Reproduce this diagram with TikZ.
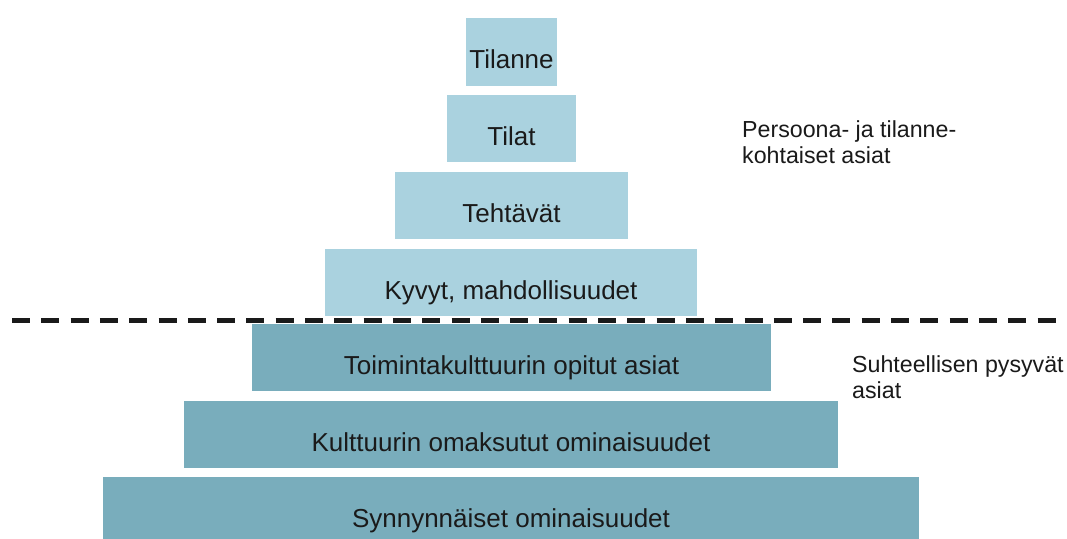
\documentclass[tikz,border=0pt]{standalone}
\usepackage{fontspec}
\setmainfont{Liberation Sans}
\definecolor{lightbox}{HTML}{AAD2DF}
\definecolor{darkbox}{HTML}{79ADBC}
\definecolor{txt}{HTML}{1A1A1A}
\begin{document}
\begin{tikzpicture}[x=1pt,y=-1pt,
  lvl/.style={inner sep=0pt,outer sep=0pt,text=txt,text height=33pt,text depth=0pt,
    font=\fontsize{26}{30}\selectfont},
  upper/.style={lvl,fill=lightbox},
  lower/.style={lvl,fill=darkbox},
  side/.style={anchor=base west,align=left,inner sep=0pt,text=txt,font=\fontsize{23.2}{26}\selectfont}]
\useasboundingbox (0,0) rectangle (1067,538);
\fill[white] (0,0) rectangle (1067,538);
\node[upper,minimum width=91pt,minimum height=68pt] (tilanne) at (511.5,52) {Tilanne};
\node[upper,minimum width=129pt,minimum height=67pt] (tilat) at (511.5,128.5) {Tilat};
\node[upper,minimum width=233pt,minimum height=67pt] (teht) at (511.5,205.5) {Tehtävät};
\node[upper,minimum width=372pt,minimum height=67pt] (kyvyt) at (511,282.5) {Kyvyt, mahdollisuudet};
\node[lower,minimum width=519pt,minimum height=67pt] (toim) at (511.5,357.5) {Toimintakulttuurin opitut asiat};
\node[lower,minimum width=654pt,minimum height=67pt] (kult) at (511,434.5) {Kulttuurin omaksutut ominaisuudet};
\node[lower,minimum width=816pt,minimum height=67pt] (synn) at (511,510.5) {Synnynnäiset ominaisuudet};
\coordinate (dl) at (12,320.5);
\coordinate (dr) at (1060,320.5);
\draw[line width=5pt,dash pattern=on 18pt off 11.3pt,txt] (dl) -- (dr);
\node[side] (pers) at (742,163) {Persoona- ja tilanne-\\kohtaiset asiat};
\node[side] (suht) at (852,398) {Suhteellisen pysyvät\\asiat};
\end{tikzpicture}
\end{document}
